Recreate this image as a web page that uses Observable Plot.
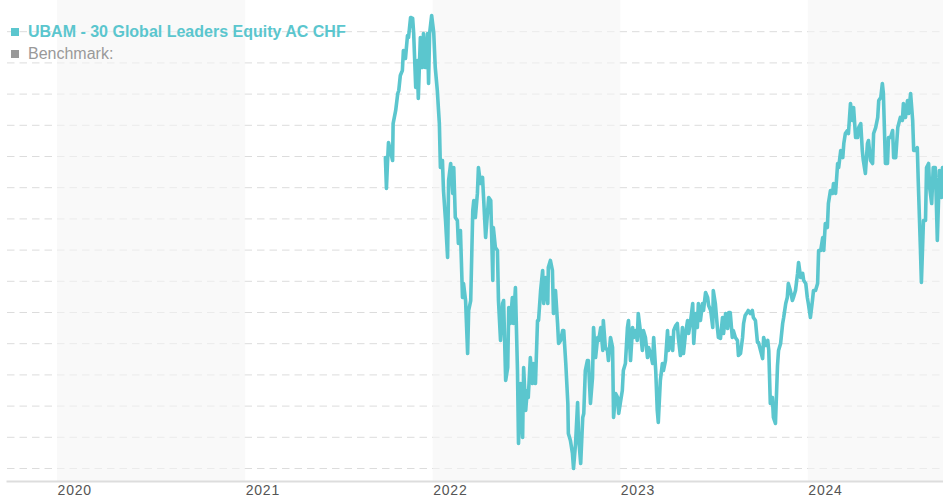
<!DOCTYPE html>
<html>
<head>
<meta charset="utf-8">
<script src="https://cdn.jsdelivr.net/npm/d3@7"></script>
<script src="https://cdn.jsdelivr.net/npm/@observablehq/plot@0.6"></script>
<style>
html, body { margin: 0; padding: 0; background: #fff; }
#wrap { position: relative; width: 943px; height: 500px; font-family: "Liberation Sans", Arial, sans-serif; }
#legend { position: absolute; left: 11px; top: 21px; font-size: 16px; line-height: 22px; pointer-events: none; white-space: nowrap; }
#legend .sw { display: inline-block; width: 8px; height: 8px; margin-right: 9px; position: relative; top: -1px; }
#chart svg g[aria-label="x-axis tick label"] text { letter-spacing: 0.8px; }
</style>
</head>
<body>
<div id="wrap"><div id="chart"></div><div id="legend"></div></div>
<script>
const seriesName = "UBAM - 30 Global Leaders Equity AC CHF";
const benchmarkName = "Benchmark:";
const seriesColor = "#5bc6ce";
const benchmarkColor = "#999999";

const yearTicks = ["2020", "2021", "2022", "2023", "2024"];
const bandYears = ["2020", "2022", "2024"];
const gridValues = [75, 77.5, 80, 82.5, 85, 87.5, 90, 92.5, 95, 97.5, 100, 102.5, 105, 107.5, 110];

const navSeries = [
  ["2021-09-30", 99.91], ["2021-10-02", 97.44], ["2021-10-04", 99.44], ["2021-10-06", 101.12], ["2021-10-14", 99.68],
  ["2021-10-15", 102.64], ["2021-10-20", 103.69], ["2021-10-24", 105.05], ["2021-10-26", 105.29], ["2021-10-29", 106.49],
  ["2021-11-02", 106.89], ["2021-11-04", 108.49], ["2021-11-08", 107.85], ["2021-11-12", 109.70], ["2021-11-14", 109.54],
  ["2021-11-18", 111.14], ["2021-11-22", 111.06], ["2021-11-24", 109.86], ["2021-11-28", 105.53],
  ["2021-12-01", 107.69], ["2021-12-03", 104.65], ["2021-12-07", 109.54], ["2021-12-11", 107.13], ["2021-12-13", 109.86],
  ["2021-12-17", 107.13], ["2021-12-21", 109.86], ["2021-12-23", 105.85], ["2021-12-25", 109.86], ["2021-12-29", 111.30],
  ["2022-01-02", 109.94], ["2022-01-05", 107.13], ["2022-01-09", 105.29], ["2022-01-11", 103.93], ["2022-01-13", 102.64],
  ["2022-01-15", 99.12], ["2022-01-19", 99.68], ["2022-01-21", 97.28], ["2022-01-25", 94.87], ["2022-01-29", 91.91], ["2022-01-31", 98.08],
  ["2022-02-04", 99.44], ["2022-02-08", 97.04], ["2022-02-10", 99.12], ["2022-02-13", 95.11], ["2022-02-17", 94.87],
  ["2022-02-19", 93.03], ["2022-02-23", 94.07], ["2022-02-27", 88.70],
  ["2022-03-01", 89.82], ["2022-03-05", 88.46], ["2022-03-09", 84.21], ["2022-03-11", 87.66], ["2022-03-15", 88.46],
  ["2022-03-19", 95.67], ["2022-03-21", 96.47], ["2022-03-24", 95.11], ["2022-03-28", 97.04], ["2022-03-30", 99.12],
  ["2022-04-03", 97.84], ["2022-04-07", 98.32], ["2022-04-09", 96.72], ["2022-04-13", 93.51], ["2022-04-17", 95.67],
  ["2022-04-19", 96.72], ["2022-04-23", 96.47], ["2022-04-27", 90.06], ["2022-04-28", 94.31],
  ["2022-05-02", 92.71], ["2022-05-06", 92.47], ["2022-05-08", 88.46], ["2022-05-12", 85.26], ["2022-05-16", 88.22],
  ["2022-05-18", 88.46], ["2022-05-22", 82.05], ["2022-05-26", 83.09], ["2022-05-28", 87.90], ["2022-05-31", 86.62],
  ["2022-06-04", 88.70], ["2022-06-06", 86.62], ["2022-06-10", 89.50], ["2022-06-14", 82.85], ["2022-06-16", 77.00],
  ["2022-06-20", 81.81], ["2022-06-24", 77.48], ["2022-06-26", 83.09], ["2022-06-30", 79.65],
  ["2022-07-03", 81.25], ["2022-07-05", 80.69], ["2022-07-09", 83.89], ["2022-07-13", 81.81], ["2022-07-15", 83.41],
  ["2022-07-19", 81.81], ["2022-07-23", 86.86], ["2022-07-25", 86.86], ["2022-07-29", 89.26],
  ["2022-08-02", 90.87], ["2022-08-04", 88.22], ["2022-08-08", 90.30], ["2022-08-12", 88.22], ["2022-08-13", 91.11],
  ["2022-08-17", 91.67], ["2022-08-21", 90.87], ["2022-08-23", 87.42], ["2022-08-27", 89.26], ["2022-08-31", 86.62],
  ["2022-09-02", 85.02], ["2022-09-06", 85.26], ["2022-09-10", 86.06], ["2022-09-12", 86.06], ["2022-09-16", 83.41],
  ["2022-09-20", 80.21], ["2022-09-21", 77.80], ["2022-09-25", 77.24], ["2022-09-29", 76.20],
  ["2022-10-01", 75.00], ["2022-10-05", 77.00], ["2022-10-09", 80.29], ["2022-10-11", 77.48], ["2022-10-15", 75.40],
  ["2022-10-19", 79.09], ["2022-10-21", 79.41], ["2022-10-24", 82.85], ["2022-10-28", 83.65], ["2022-10-30", 83.65],
  ["2022-11-03", 80.21], ["2022-11-07", 82.29], ["2022-11-09", 86.30], ["2022-11-13", 83.89], ["2022-11-17", 85.50],
  ["2022-11-19", 85.26], ["2022-11-23", 86.30], ["2022-11-27", 84.46], ["2022-11-28", 86.86],
  ["2022-12-02", 84.70], ["2022-12-06", 84.46], ["2022-12-08", 83.65], ["2022-12-12", 85.50], ["2022-12-16", 84.70],
  ["2022-12-18", 79.09], ["2022-12-22", 81.01], ["2022-12-26", 80.69], ["2022-12-28", 79.41], ["2022-12-31", 80.21],
  ["2023-01-04", 81.25], ["2023-01-06", 82.85], ["2023-01-10", 83.41], ["2023-01-14", 86.30], ["2023-01-16", 86.86],
  ["2023-01-20", 83.65], ["2023-01-24", 86.30], ["2023-01-26", 85.50], ["2023-01-30", 86.06],
  ["2023-02-02", 85.26], ["2023-02-04", 87.42], ["2023-02-08", 86.06], ["2023-02-12", 84.46], ["2023-02-14", 86.06],
  ["2023-02-18", 85.50], ["2023-02-22", 83.89], ["2023-02-24", 84.70], ["2023-02-28", 84.21],
  ["2023-03-04", 83.41], ["2023-03-06", 85.50], ["2023-03-10", 82.85], ["2023-03-13", 79.65], ["2023-03-15", 78.69],
  ["2023-03-19", 82.05], ["2023-03-23", 83.41], ["2023-03-25", 82.85], ["2023-03-29", 83.65],
  ["2023-04-02", 86.06], ["2023-04-04", 84.46], ["2023-04-08", 85.50], ["2023-04-12", 84.46], ["2023-04-14", 86.06],
  ["2023-04-18", 86.46], ["2023-04-21", 86.62], ["2023-04-23", 85.50], ["2023-04-27", 84.05],
  ["2023-05-01", 86.30], ["2023-05-03", 84.21], ["2023-05-07", 85.82], ["2023-05-11", 86.86], ["2023-05-13", 85.82],
  ["2023-05-17", 86.86], ["2023-05-21", 88.22], ["2023-05-23", 85.02], ["2023-05-27", 87.42], ["2023-05-30", 86.30],
  ["2023-06-01", 88.22], ["2023-06-05", 86.86], ["2023-06-09", 88.22], ["2023-06-11", 87.66], ["2023-06-15", 89.10],
  ["2023-06-19", 88.70], ["2023-06-21", 88.06], ["2023-06-25", 87.66], ["2023-06-29", 86.30], ["2023-06-30", 89.26],
  ["2023-07-04", 88.22], ["2023-07-08", 86.30], ["2023-07-10", 85.50], ["2023-07-14", 85.42], ["2023-07-18", 87.10],
  ["2023-07-20", 85.82], ["2023-07-24", 87.42], ["2023-07-28", 86.22], ["2023-07-30", 87.50],
  ["2023-08-02", 87.50], ["2023-08-06", 85.50], ["2023-08-08", 86.06], ["2023-08-12", 85.50], ["2023-08-16", 85.26],
  ["2023-08-18", 84.05], ["2023-08-22", 84.21], ["2023-08-26", 85.50], ["2023-08-28", 86.62], ["2023-08-31", 87.26],
  ["2023-09-04", 87.50], ["2023-09-06", 87.66], ["2023-09-10", 87.42], ["2023-09-14", 87.66], ["2023-09-16", 87.10],
  ["2023-09-20", 86.86], ["2023-09-24", 85.10], ["2023-09-26", 85.10], ["2023-09-30", 84.46],
  ["2023-10-04", 83.81], ["2023-10-06", 85.50], ["2023-10-10", 84.86], ["2023-10-14", 85.26], ["2023-10-16", 84.46],
  ["2023-10-19", 80.21], ["2023-10-23", 80.69], ["2023-10-25", 79.09], ["2023-10-29", 78.61],
  ["2023-11-02", 83.25], ["2023-11-04", 84.46], ["2023-11-08", 85.02], ["2023-11-12", 86.62], ["2023-11-14", 87.10],
  ["2023-11-18", 88.22], ["2023-11-21", 88.70], ["2023-11-23", 89.82], ["2023-11-27", 89.26],
  ["2023-12-01", 88.46], ["2023-12-03", 88.70], ["2023-12-07", 89.26], ["2023-12-11", 90.63], ["2023-12-13", 91.51],
  ["2023-12-17", 90.30], ["2023-12-21", 90.63], ["2023-12-23", 90.06], ["2023-12-27", 89.82], ["2023-12-30", 88.70],
  ["2024-01-01", 88.22], ["2024-01-05", 87.10], ["2024-01-09", 88.46], ["2024-01-11", 89.26], ["2024-01-15", 89.26],
  ["2024-01-19", 89.82], ["2024-01-21", 92.47], ["2024-01-25", 92.47], ["2024-01-29", 93.51], ["2024-01-31", 92.47],
  ["2024-02-03", 94.63], ["2024-02-07", 94.31], ["2024-02-09", 96.23], ["2024-02-13", 97.28], ["2024-02-17", 97.04],
  ["2024-02-19", 97.84], ["2024-02-23", 97.04], ["2024-02-27", 99.44], ["2024-02-29", 99.12],
  ["2024-03-04", 100.48], ["2024-03-08", 99.91], ["2024-03-10", 101.04], ["2024-03-13", 101.84], ["2024-03-17", 102.08],
  ["2024-03-19", 101.84], ["2024-03-23", 104.25], ["2024-03-27", 102.89], ["2024-03-29", 103.93],
  ["2024-04-02", 101.52], ["2024-04-06", 101.52], ["2024-04-08", 102.32], ["2024-04-12", 102.64], ["2024-04-15", 100.48],
  ["2024-04-17", 99.68], ["2024-04-21", 98.64], ["2024-04-25", 101.04], ["2024-04-27", 101.28],
  ["2024-05-01", 99.68], ["2024-05-05", 99.44], ["2024-05-07", 101.84], ["2024-05-11", 102.32], ["2024-05-15", 103.13],
  ["2024-05-17", 104.49], ["2024-05-21", 104.73], ["2024-05-24", 105.85], ["2024-05-26", 105.05], ["2024-05-30", 99.44],
  ["2024-06-03", 99.44], ["2024-06-05", 101.52], ["2024-06-09", 101.52], ["2024-06-13", 102.08], ["2024-06-15", 99.91],
  ["2024-06-19", 99.91], ["2024-06-23", 102.32], ["2024-06-25", 102.64], ["2024-06-28", 103.13],
  ["2024-07-02", 102.89], ["2024-07-04", 104.25], ["2024-07-08", 103.13], ["2024-07-12", 104.49], ["2024-07-14", 103.45],
  ["2024-07-18", 105.05], ["2024-07-22", 102.89], ["2024-07-24", 100.48], ["2024-07-28", 100.48], ["2024-07-31", 100.72],
  ["2024-08-02", 97.84], ["2024-08-06", 92.71], ["2024-08-08", 89.90], ["2024-08-12", 94.87], ["2024-08-16", 94.87],
  ["2024-08-18", 99.12], ["2024-08-22", 99.44], ["2024-08-24", 97.52], ["2024-08-28", 96.23], ["2024-08-31", 99.12],
  ["2024-09-04", 99.12], ["2024-09-06", 96.47], ["2024-09-08", 93.27], ["2024-09-12", 98.88], ["2024-09-16", 96.72],
  ["2024-09-18", 99.12], ["2024-09-20", 97.08]
];

const xDomain = ["2019-09-12", "2024-09-20"];

const data = navSeries.map(([d, v]) => ({date: new Date(d), value: v}));

const chart = Plot.plot({
  width: 943,
  height: 500,
  marginLeft: 7,
  marginRight: 0,
  marginTop: 0,
  marginBottom: 19,
  style: {fontFamily: '"Liberation Sans", Arial, sans-serif', fontSize: "14px", color: "#555", background: "transparent"},
  x: {type: "utc", domain: xDomain.map(d => new Date(d)), range: [0, 943]},
  y: {domain: [75, 110], range: [468, 31.2], axis: null},
  marks: [
    Plot.ruleY(gridValues, {stroke: "#dcdcdc", strokeWidth: 1, strokeDasharray: "7.5,5"}),
    Plot.rectX(bandYears, {
      x1: d => new Date(d + "-01-01"),
      x2: d => new Date((+d + 1) + "-01-01"),
      fill: "#f5f5f5",
      fillOpacity: 0.6,
      clip: true
    }),
    Plot.frame({anchor: "bottom", stroke: "#dddddd", strokeWidth: 2}),
    Plot.axisX({
      ticks: yearTicks.map(y => new Date(y + "-01-01")),
      tickFormat: d => String(d.getUTCFullYear()),
      tickSize: 0,
      tickPadding: 4,
      textAnchor: "start",
      fill: "#555",
      fontSize: 14,
      label: null
    }),
    Plot.line(data, {x: "date", y: "value", stroke: seriesColor, strokeWidth: 3.6, strokeLinejoin: "round", strokeLinecap: "round"})
  ]
});
document.getElementById("chart").appendChild(chart);

const legend = document.getElementById("legend");
[[seriesName, seriesColor, "bold"], [benchmarkName, benchmarkColor, "normal"]].forEach(([name, color, weight]) => {
  const row = document.createElement("div");
  row.style.color = color;
  row.style.fontWeight = weight;
  const sw = document.createElement("span");
  sw.className = "sw";
  sw.style.background = color;
  row.appendChild(sw);
  row.appendChild(document.createTextNode(name));
  legend.appendChild(row);
});
</script>
</body>
</html>
